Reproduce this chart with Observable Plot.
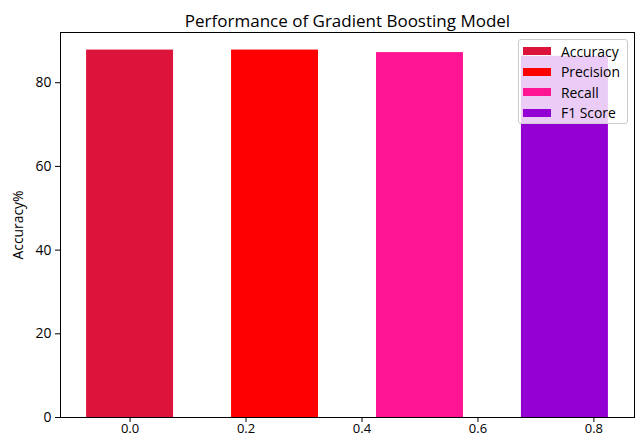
<!DOCTYPE html>
<html>
<head>
<meta charset="utf-8">
<script src="https://cdn.jsdelivr.net/npm/d3@7"></script>
<script src="https://cdn.jsdelivr.net/npm/@observablehq/plot@0.6"></script>
<style>
  html, body { margin: 0; padding: 0; background: white; }
  #wrap { position: relative; width: 637px; height: 437px; font-family: "Open Sans", sans-serif; }
  #legend {
    position: absolute; left: 518px; top: 39px; width: 110px; height: 85px;
    background: rgba(255,255,255,0.8); border: 1px solid #cccccc; border-radius: 3px;
    box-sizing: border-box;
  }
  .item { position: absolute; left: 0; height: 20px; display: flex; align-items: center; font-size: 13.9px; color: #000; }
  .sw { display: inline-block; width: 28px; height: 8px; margin-left: 4px; margin-right: 10px; }
</style>
</head>
<body>
<div id="wrap"></div>
<script>
const metrics = ["Accuracy", "Precision", "Recall", "F1 Score"];
const values = [87.8, 87.8, 87.2, 86.3];
const positions = [0, 0.25, 0.5, 0.75];
const barWidth = 0.15;
const colors = ["#DC143C", "#FF0000", "#FF1493", "#9400D3"];
const xTicks = [0.0, 0.2, 0.4, 0.6, 0.8];
const yTicks = [0, 20, 40, 60, 80];
const title = "Performance of Gradient Boosting Model";
const yLabel = "Accuracy%";

const data = metrics.map((m, i) => ({metric: m, value: values[i], pos: positions[i], color: colors[i]}));

const plot = Plot.plot({
  width: 637,
  height: 437,
  marginLeft: 60,
  marginRight: 3,
  marginTop: 32,
  marginBottom: 20,
  style: {fontFamily: "Open Sans", fontSize: "13.9px", background: "white", color: "black"},
  x: {domain: [-0.12, 0.87]},
  y: {domain: [0, 92.0]},
  marks: [
    Plot.rectY(data, {x1: d => d.pos - barWidth / 2, x2: d => d.pos + barWidth / 2, y1: 0, y2: "value", fill: "color"}),
    Plot.frame({stroke: "#000", strokeWidth: 1}),
    Plot.axisX({ticks: xTicks, tickFormat: d3.format(".1f"), tickSize: 5, tickPadding: 1, label: null, fontSize: 13}),
    Plot.axisY({ticks: yTicks, tickSize: 5, tickPadding: 4, label: yLabel, labelAnchor: "center", labelArrow: "none", labelOffset: 47, fontSize: 13.9}),
    Plot.text([title], {text: d => d, frameAnchor: "top", dy: -18, fontSize: 17})
  ]
});
const wrap = document.getElementById("wrap");
wrap.appendChild(plot);

const legend = document.createElement("div");
legend.id = "legend";
metrics.forEach((m, i) => {
  const it = document.createElement("div");
  it.className = "item";
  it.style.top = (1 + i * 20.5) + "px";
  const sw = document.createElement("span");
  sw.className = "sw";
  sw.style.background = colors[i];
  it.appendChild(sw);
  it.appendChild(document.createTextNode(m));
  legend.appendChild(it);
});
wrap.appendChild(legend);
</script>
</body>
</html>
